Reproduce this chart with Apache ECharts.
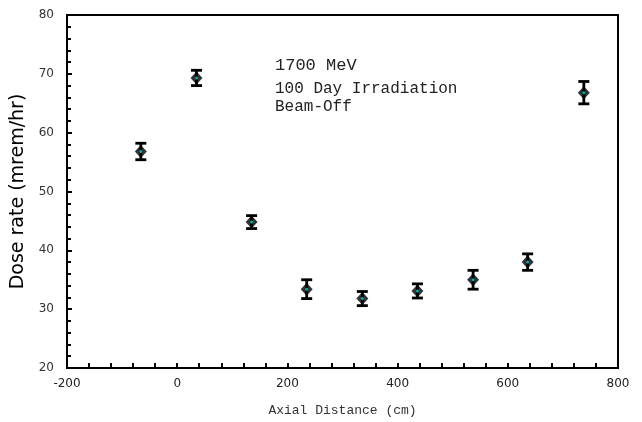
<!DOCTYPE html>
<html><head><meta charset="utf-8">
<script src="https://cdn.jsdelivr.net/npm/echarts@6/dist/echarts.min.js"></script>
<style>html,body{margin:0;padding:0;background:#fff}#c{width:642px;height:422px}</style>
</head><body><div id="c"></div>
<script>
const distance = [-66, 35, 135, 235, 336, 436, 537, 636, 738];
const doseRate = [56.8, 69.3, 44.8, 33.4, 31.8, 33.1, 35.0, 38.0, 66.8];
const doseErr = [1.4, 1.3, 1.1, 1.6, 1.2, 1.2, 1.6, 1.4, 1.9];
const xTicks = [-200, 0, 200, 400, 600, 800];
const yTicks = [20, 30, 40, 50, 60, 70, 80];
const notes = ['1700 MeV', '100 Day Irradiation', 'Beam-Off'];

const pts = distance.map((x, i) => [x, doseRate[i]]);
const errData = distance.map((x, i) => [x, doseRate[i] - doseErr[i], doseRate[i] + doseErr[i]]);

const chart = echarts.init(document.getElementById('c'), null, {renderer: 'canvas'});
chart.setOption({
  animation: false,
  grid: {left: 67, right: 24, top: 15, bottom: 54, containLabel: false, outerBoundsMode: 'none',
         show: true, borderColor: '#000', borderWidth: 2, backgroundColor: 'transparent'},
  xAxis: {
    type: 'value', min: xTicks[0], max: xTicks[xTicks.length - 1], interval: 200,
    axisLine: {show: true, onZero: false, lineStyle: {color: '#000', width: 2}},
    axisTick: {show: true, inside: true, length: 5, lineStyle: {color: '#000', width: 2}},
    minorTick: {show: true, splitNumber: 5, length: 5, lineStyle: {color: '#000', width: 2}},
    splitLine: {show: false},
    axisLabel: {color: '#222', fontFamily: 'DejaVu Sans', fontSize: 12, margin: 10},
    name: 'Axial Distance (cm)', nameLocation: 'middle', nameGap: 36,
    nameTextStyle: {color: '#333', fontFamily: 'Liberation Mono', fontSize: 13}
  },
  yAxis: {
    type: 'value', min: yTicks[0], max: yTicks[yTicks.length - 1], interval: 10,
    axisLine: {show: true, onZero: false, lineStyle: {color: '#000', width: 2}},
    axisTick: {show: true, inside: true, length: 5, lineStyle: {color: '#000', width: 2}},
    minorTick: {show: true, splitNumber: 5, length: 4, lineStyle: {color: '#000', width: 2}},
    splitLine: {show: false},
    axisLabel: {color: '#333', fontFamily: 'DejaVu Sans', fontSize: 12, margin: 13},
    name: 'Dose rate (mrem/hr)', nameLocation: 'middle', nameGap: 31,
    nameTextStyle: {color: '#000', fontFamily: 'DejaVu Sans', fontSize: 19}
  },
  series: [
    {
      type: 'custom',
      data: errData,
      renderItem: function (params, api) {
        const x = api.value(0);
        const lo = api.coord([x, api.value(1)]);
        const hi = api.coord([x, api.value(2)]);
        const w = 5.5;
        const st = {stroke: '#000', lineWidth: 2.8, fill: null};
        return {type: 'group', children: [
          {type: 'line', shape: {x1: lo[0], y1: lo[1], x2: hi[0], y2: hi[1]}, style: st},
          {type: 'line', shape: {x1: lo[0] - w, y1: lo[1], x2: lo[0] + w, y2: lo[1]}, style: st},
          {type: 'line', shape: {x1: hi[0] - w, y1: hi[1], x2: hi[0] + w, y2: hi[1]}, style: st}
        ]};
      },
      z: 2
    },
    {
      type: 'scatter', data: pts, symbol: 'diamond', symbolSize: [12, 13],
      itemStyle: {color: '#000'}, z: 3
    },
    {
      type: 'scatter', data: pts, symbol: 'circle', symbolSize: 3,
      itemStyle: {color: '#00d8d8'}, z: 4
    }
  ],
  graphic: [
    {type: 'text', left: 275, top: 57, style: {text: notes[0], fill: '#222', font: '17px "Liberation Mono"'}},
    {type: 'text', left: 275, top: 81, style: {text: notes[1], fill: '#222', font: '16px "Liberation Mono"'}},
    {type: 'text', left: 275, top: 99, style: {text: notes[2], fill: '#222', font: '16px "Liberation Mono"'}}
  ]
});
</script></body></html>
